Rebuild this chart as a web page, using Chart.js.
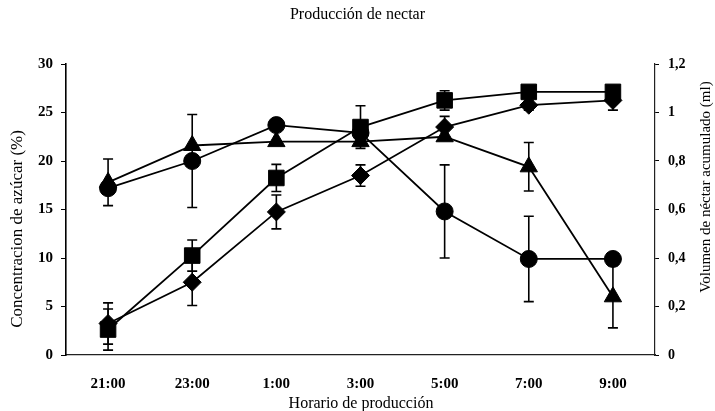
<!DOCTYPE html>
<html>
<head>
<meta charset="utf-8">
<script src="https://cdn.jsdelivr.net/npm/chart.js@4/dist/chart.umd.min.js"></script>
<style>
  html, body { margin: 0; padding: 0; background: #fff; }
  #wrap { width: 715px; height: 411px; }
</style>
</head>
<body>
<div id="wrap"><canvas id="grafica" width="715" height="411"></canvas></div>
<script>
// Datos
const horas = ['21:00', '23:00', '1:00', '3:00', '5:00', '7:00', '9:00'];

// Concentracion de azucar (%) - eje izquierdo
const azucarCirculo = [17.2, 20.0, 23.7, 22.9, 14.8, 9.9, 9.9];
const errCirculo = [0, 4.8, 0, 0, 4.8, 4.4, 0];
const azucarTriangulo = [17.8, 21.6, 22.0, 22.0, 22.5, 19.4, 6.0];
const errTriangulo = [2.4, 0, 0, 0, 0, 2.5, 3.2];

// Volumen de nectar acumulado (ml) - eje derecho
const volCuadrado = [0.105, 0.41, 0.73, 0.94, 1.05, 1.085, 1.085];
const errCuadrado = [0.085, 0.064, 0.056, 0.088, 0.04, 0.02, 0.02];
const volRombo = [0.13, 0.30, 0.59, 0.74, 0.94, 1.03, 1.05];
const errRombo = [0.085, 0.096, 0.07, 0.044, 0.044, 0.02, 0.04];

const ticksIzq = [0, 5, 10, 15, 20, 25, 30];
const ticksDer = [0, 0.2, 0.4, 0.6, 0.8, 1, 1.2];

const fuente = '"Liberation Serif", "Times New Roman", serif';

// barras de error dibujadas con las escalas del grafico
const barrasError = {
  id: 'barrasError',
  beforeDatasetsDraw(chart) {
    const ctx = chart.ctx;
    const xs = chart.scales.x;
    ctx.save();
    ctx.strokeStyle = '#000';
    ctx.lineWidth = 1.6;
    chart.data.datasets.forEach(ds => {
      const ys = chart.scales[ds.yAxisID];
      ds.data.forEach((v, i) => {
        const e = ds.err[i];
        if (!e) return;
        const x = xs.getPixelForValue(i);
        const y1 = ys.getPixelForValue(v + e);
        const y2 = ys.getPixelForValue(v - e);
        ctx.beginPath();
        ctx.moveTo(x, y1); ctx.lineTo(x, y2);
        ctx.moveTo(x - 5, y1); ctx.lineTo(x + 5, y1);
        ctx.moveTo(x - 5, y2); ctx.lineTo(x + 5, y2);
        ctx.stroke();
      });
    });
    ctx.restore();
  }
};

// titulos de los ejes
const titulosEjes = {
  id: 'titulosEjes',
  afterDraw(chart) {
    const ctx = chart.ctx;
    ctx.save();
    ctx.fillStyle = '#000';
    ctx.textAlign = 'center';
    ctx.textBaseline = 'middle';
    ctx.font = '16px ' + fuente;
    ctx.fillText('Horario de producción', 361, 404);
    ctx.restore();
    ctx.save();
    ctx.fillStyle = '#000';
    ctx.textAlign = 'center';
    ctx.textBaseline = 'middle';
    ctx.font = '17px ' + fuente;
    ctx.translate(18, 229);
    ctx.rotate(-Math.PI / 2);
    ctx.fillText('Concentracion de azúcar (%)', 0, 0);
    ctx.restore();
    ctx.save();
    ctx.fillStyle = '#000';
    ctx.textAlign = 'center';
    ctx.textBaseline = 'middle';
    ctx.font = '15px ' + fuente;
    ctx.translate(706, 187);
    ctx.rotate(-Math.PI / 2);
    ctx.fillText('Volumen de néctar acumulado (ml)', 0, 0);
    ctx.restore();
  }
};

function serie(datos, err, eje, estilo, radio) {
  return {
    data: datos,
    err: err,
    yAxisID: eje,
    borderColor: '#000',
    backgroundColor: '#000',
    borderWidth: 1.8,
    pointStyle: estilo,
    pointRadius: radio,
    pointBorderWidth: 1,
    pointBackgroundColor: '#000',
    pointBorderColor: '#000',
    tension: 0,
    fill: false
  };
}

new Chart(document.getElementById('grafica'), {
  type: 'line',
  data: {
    labels: horas,
    datasets: [
      serie(volRombo, errRombo, 'yDer', 'rectRot', 9),
      serie(volCuadrado, errCuadrado, 'yDer', 'rect', 11),
      serie(azucarTriangulo, errTriangulo, 'yIzq', 'triangle', 10),
      serie(azucarCirculo, errCirculo, 'yIzq', 'circle', 8.5)
    ]
  },
  options: {
    responsive: false,
    animation: false,
    layout: { padding: 0 },
    plugins: {
      legend: { display: false },
      tooltip: { enabled: false },
      title: {
        display: true,
        text: 'Producción de nectar',
        color: '#000',
        font: { family: fuente, size: 16, weight: 'normal' },
        padding: { top: 5, bottom: 39.8 }
      }
    },
    scales: {
      x: {
        offset: true,
        afterFit: s => { s.height = 56; },
        grid: { display: false, drawTicks: false },
        border: { display: true, color: '#222', width: 1.2, dash: [7, 3] },
        ticks: { color: '#000', padding: 20, font: { family: fuente, size: 15, weight: 'bold' } }
      },
      yIzq: {
        position: 'left',
        min: 0, max: 30,
        afterFit: s => { s.width = 66; },
        afterBuildTicks: s => { s.ticks = ticksIzq.map(v => ({ value: v })); },
        grid: { drawOnChartArea: false, drawTicks: true, tickLength: 5, color: '#000' },
        border: { display: true, color: '#000', width: 1.6 },
        ticks: { color: '#000', padding: 8, font: { family: fuente, size: 15, weight: 'bold' } }
      },
      yDer: {
        position: 'right',
        min: 0, max: 1.2,
        afterFit: s => { s.width = 60; },
        afterBuildTicks: s => { s.ticks = ticksDer.map(v => ({ value: v })); },
        grid: { drawOnChartArea: false, drawTicks: true, tickLength: 4, color: '#000' },
        border: { display: true, color: '#222', width: 1.2, dash: [7, 2] },
        ticks: {
          color: '#000', padding: 9,
          font: { family: fuente, size: 14, weight: 'bold' },
          callback: v => String(Number(v.toFixed(1))).replace('.', ',')
        }
      }
    }
  },
  plugins: [barrasError, titulosEjes]
});
</script>
</body>
</html>
